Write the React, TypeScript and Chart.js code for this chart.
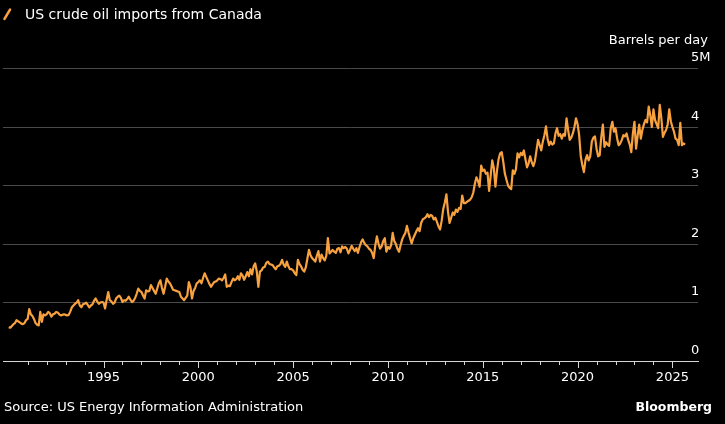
import React, { useEffect, useRef } from 'react';
import { Chart, registerables } from 'chart.js';

Chart.register(...registerables);

// Monthly US crude oil imports from Canada, million barrels per day (Jan 1990 - Sep 2025)
const START_YEAR = 1990;
const Y1990 = [0.58, 0.57, 0.60, 0.63, 0.65, 0.70, 0.68, 0.66, 0.64, 0.63, 0.65, 0.70];
const Y1991 = [0.72, 0.89, 0.80, 0.77, 0.72, 0.65, 0.62, 0.61, 0.84, 0.67, 0.80, 0.78];
const Y1992 = [0.80, 0.84, 0.82, 0.76, 0.80, 0.81, 0.84, 0.83, 0.80, 0.78, 0.79, 0.80];
const Y1993 = [0.79, 0.78, 0.79, 0.85, 0.92, 0.95, 0.98, 1.00, 1.04, 0.95, 0.92, 0.97];
const Y1994 = [0.98, 1.00, 0.96, 0.92, 0.95, 0.97, 1.03, 1.07, 1.02, 0.98, 1.00, 1.01];
const Y1995 = [1.00, 0.90, 1.05, 1.18, 1.04, 1.02, 0.98, 1.00, 1.07, 1.10, 1.12, 1.08];
const Y1996 = [1.01, 1.04, 1.03, 1.06, 1.10, 1.05, 1.01, 1.03, 1.08, 1.15, 1.24, 1.20];
const Y1997 = [1.18, 1.12, 1.07, 1.21, 1.19, 1.20, 1.30, 1.25, 1.20, 1.15, 1.24, 1.33];
const Y1998 = [1.38, 1.25, 1.15, 1.27, 1.41, 1.36, 1.33, 1.28, 1.22, 1.21, 1.20, 1.19];
const Y1999 = [1.18, 1.10, 1.07, 1.04, 1.08, 1.12, 1.35, 1.27, 1.07, 1.20, 1.25, 1.33];
const Y2000 = [1.35, 1.38, 1.33, 1.42, 1.50, 1.44, 1.38, 1.32, 1.27, 1.31, 1.35, 1.36];
const Y2001 = [1.38, 1.41, 1.40, 1.38, 1.42, 1.48, 1.27, 1.29, 1.28, 1.35, 1.41, 1.38];
const Y2002 = [1.40, 1.45, 1.39, 1.50, 1.46, 1.39, 1.45, 1.52, 1.45, 1.57, 1.48, 1.62];
const Y2003 = [1.67, 1.53, 1.27, 1.53, 1.55, 1.60, 1.61, 1.68, 1.70, 1.66, 1.65, 1.64];
const Y2004 = [1.60, 1.57, 1.62, 1.63, 1.66, 1.73, 1.65, 1.61, 1.70, 1.62, 1.57, 1.57];
const Y2005 = [1.55, 1.50, 1.47, 1.73, 1.66, 1.62, 1.56, 1.53, 1.60, 1.75, 1.90, 1.81];
const Y2006 = [1.76, 1.73, 1.70, 1.80, 1.88, 1.70, 1.82, 1.76, 1.72, 1.80, 2.10, 1.84];
const Y2007 = [1.87, 1.90, 1.87, 1.85, 1.92, 1.93, 1.86, 1.96, 1.93, 1.95, 1.92, 1.84];
const Y2008 = [1.90, 1.97, 1.92, 1.88, 1.93, 1.85, 1.95, 2.03, 2.08, 2.02, 1.98, 1.96];
const Y2009 = [1.92, 1.90, 1.85, 1.76, 1.98, 2.13, 2.01, 1.92, 1.96, 2.05, 2.10, 1.87];
const Y2010 = [1.95, 1.92, 1.98, 2.19, 2.05, 2.00, 1.92, 1.87, 1.98, 2.08, 2.14, 2.19];
const Y2011 = [2.31, 2.20, 2.10, 2.01, 2.10, 2.16, 2.22, 2.27, 2.22, 2.36, 2.42, 2.44];
const Y2012 = [2.46, 2.51, 2.46, 2.50, 2.48, 2.42, 2.45, 2.38, 2.30, 2.25, 2.40, 2.60];
const Y2013 = [2.71, 2.85, 2.55, 2.36, 2.45, 2.54, 2.50, 2.59, 2.55, 2.62, 2.60, 2.83];
const Y2014 = [2.70, 2.70, 2.72, 2.74, 2.76, 2.80, 2.88, 3.03, 3.14, 3.08, 2.98, 3.34];
const Y2015 = [3.25, 3.27, 3.20, 3.22, 2.91, 3.17, 3.43, 3.30, 2.98, 3.25, 3.45, 3.55];
const Y2016 = [3.57, 3.40, 3.20, 3.10, 3.00, 2.96, 2.94, 3.26, 3.20, 3.28, 3.55, 3.48];
const Y2017 = [3.56, 3.52, 3.60, 3.45, 3.31, 3.38, 3.50, 3.40, 3.33, 3.42, 3.60, 3.78];
const Y2018 = [3.69, 3.60, 3.75, 3.86, 4.01, 3.80, 3.69, 3.75, 3.70, 3.72, 3.89, 3.98];
const Y2019 = [3.85, 3.88, 3.80, 3.88, 3.85, 4.15, 3.95, 3.78, 3.82, 3.89, 4.00, 4.15];
const Y2020 = [4.05, 3.86, 3.50, 3.35, 3.23, 3.44, 3.52, 3.43, 3.50, 3.75, 3.82, 3.84];
const Y2021 = [3.63, 3.50, 3.52, 3.83, 4.04, 3.66, 3.74, 3.70, 3.68, 3.98, 4.09, 3.92];
const Y2022 = [3.98, 3.81, 3.69, 3.72, 3.78, 3.86, 3.84, 3.89, 3.78, 3.70, 3.57, 3.89];
const Y2023 = [4.09, 3.63, 3.85, 4.04, 3.80, 3.95, 4.05, 4.12, 4.08, 4.35, 4.20, 4.00];
const Y2024 = [4.30, 4.12, 4.05, 3.98, 4.38, 4.15, 3.83, 3.90, 3.95, 4.04, 4.30, 4.10];
const Y2025 = [4.00, 3.92, 3.80, 3.78, 3.69, 4.07, 3.69, 3.72, 3.70];

const SERIES_BY_YEAR: number[][] = [
  Y1990, Y1991, Y1992, Y1993, Y1994, Y1995, Y1996, Y1997, Y1998, Y1999,
  Y2000, Y2001, Y2002, Y2003, Y2004, Y2005, Y2006, Y2007, Y2008, Y2009,
  Y2010, Y2011, Y2012, Y2013, Y2014, Y2015, Y2016, Y2017, Y2018, Y2019,
  Y2020, Y2021, Y2022, Y2023, Y2024, Y2025,
];

const X_TICKS = [
  1991, 1992, 1993, 1994, 1995, 1996, 1997, 1998, 1999, 2000,
  2001, 2002, 2003, 2004, 2005, 2006, 2007, 2008, 2009, 2010,
  2011, 2012, 2013, 2014, 2015, 2016, 2017, 2018, 2019, 2020,
  2021, 2022, 2023, 2024, 2025,
];
const X_LABELED = [1995, 2000, 2005, 2010, 2015, 2020, 2025];
const Y_TICKS = [0, 1, 2, 3, 4, 5];
const Y_TICK_LABELS = ['0', '1', '2', '3', '4', '5M'];

const TITLE = 'US crude oil imports from Canada';
const UNIT = 'Barrels per day';
const SOURCE = 'Source: US Energy Information Administration';
const BRAND = 'Bloomberg';

const ORANGE = '#f8a13f';
const FONT = '"DejaVu Sans", "Liberation Sans", sans-serif';

const axisDecor = {
  id: 'axisDecor',
  afterDraw(chart: any) {
    const { ctx, chartArea } = chart;
    const x = chart.scales.x;
    const y = chart.scales.y;
    ctx.save();
    ctx.strokeStyle = '#d6d6d6';
    ctx.lineWidth = 1;
    const base = Math.round(y.getPixelForValue(0));
    X_TICKS.forEach((yr) => {
      const px = Math.round(x.getPixelForValue(yr)) + 0.5;
      const len = X_LABELED.includes(yr) ? 7 : 4;
      ctx.beginPath();
      ctx.moveTo(px, base);
      ctx.lineTo(px, base + len);
      ctx.stroke();
    });
    ctx.fillStyle = '#ffffff';
    ctx.font = '13px ' + FONT;
    ctx.textAlign = 'left';
    ctx.textBaseline = 'alphabetic';
    Y_TICKS.forEach((v, i) => {
      ctx.fillText(Y_TICK_LABELS[i], chartArea.right - 7, y.getPixelForValue(v) - 7.5);
    });
    ctx.restore();
  },
};

export default function App() {
  const canvasRef = useRef<HTMLCanvasElement | null>(null);

  useEffect(() => {
    document.body.style.margin = '0';
    document.body.style.background = '#000';
    const canvas = canvasRef.current;
    if (!canvas) return;
    const points = SERIES_BY_YEAR.flatMap((vals, yi) =>
      vals.map((v, mi) => ({ x: START_YEAR + yi + mi / 12, y: v }))
    );
    const chart = new Chart(canvas, {
      type: 'line',
      data: {
        datasets: [
          {
            data: points,
            borderColor: ORANGE,
            borderWidth: 2.2,
            pointRadius: 0,
            tension: 0,
            fill: false,
            borderJoinStyle: 'round',
          } as any,
        ],
      },
      options: {
        animation: false,
        responsive: false,
        maintainAspectRatio: false,
        devicePixelRatio: 1,
        layout: { padding: { left: 3, right: 27, top: 68.5, bottom: 30.1 } },
        plugins: { legend: { display: false }, tooltip: { enabled: false }, title: { display: false } },
        scales: {
          x: {
            type: 'linear',
            min: 1989.7,
            max: 2026.35,
            afterBuildTicks: (s: any) => {
              s.ticks = X_TICKS.map((v) => ({ value: v }));
            },
            ticks: {
              autoSkip: false,
              maxRotation: 0,
              minRotation: 0,
              padding: 8.6,
              color: '#ffffff',
              font: { family: FONT, size: 13 },
              callback: (v: any) => (X_LABELED.includes(Number(v)) ? String(v) : ''),
            },
            grid: { display: false, drawTicks: false },
            border: { display: true, color: '#d6d6d6', width: 1 },
          },
          y: {
            position: 'right',
            min: 0,
            max: 5,
            afterBuildTicks: (s: any) => {
              s.ticks = Y_TICKS.map((v) => ({ value: v }));
            },
            ticks: { display: false },
            grid: { color: '#4a4a4a', lineWidth: 1, drawTicks: false },
            border: { display: false },
          },
        },
      } as any,
      plugins: [axisDecor],
    });
    return () => chart.destroy();
  }, []);

  return (
    <div
      style={{
        position: 'fixed',
        left: 0,
        top: 0,
        width: 725,
        height: 424,
        background: '#000',
        overflow: 'hidden',
        fontFamily: FONT,
        color: '#ffffff',
      }}
    >
      <canvas ref={canvasRef} width={725} height={424} style={{ position: 'absolute', left: 0, top: 0, width: 725, height: 424 }} />
      <svg width={20} height={24} style={{ position: 'absolute', left: 0, top: 0 }}>
        <line x1={4.5} y1={18.8} x2={10} y2={9.6} stroke={ORANGE} strokeWidth={2.6} strokeLinecap="round" />
      </svg>
      <div style={{ position: 'absolute', left: 25, top: 7.2, fontSize: 14, lineHeight: '14px', whiteSpace: 'nowrap' }}>{TITLE}</div>
      <div style={{ position: 'absolute', right: 17, top: 33, fontSize: 13, lineHeight: '13px', whiteSpace: 'nowrap' }}>{UNIT}</div>
      <div style={{ position: 'absolute', left: 4, top: 400, fontSize: 13, lineHeight: '13px', whiteSpace: 'nowrap' }}>{SOURCE}</div>
      <div style={{ position: 'absolute', right: 13, top: 399.5, fontSize: 12.5, lineHeight: '13px', fontWeight: 700, whiteSpace: 'nowrap' }}>{BRAND}</div>
    </div>
  );
}
